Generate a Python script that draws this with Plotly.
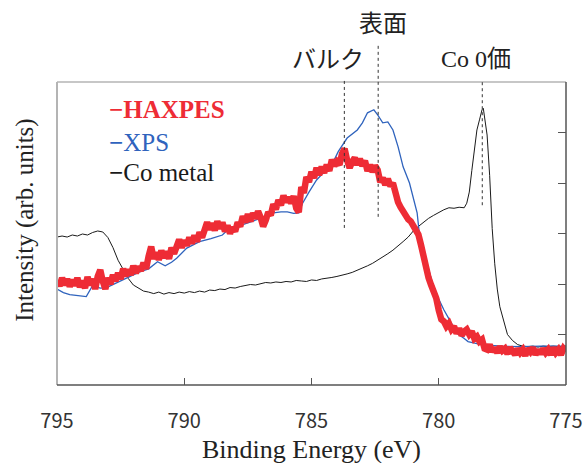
import plotly.graph_objects as go

# ---------------- data ----------------
x_range = [795, 775]
x_ticks = [795, 790, 785, 780, 775]
y_range = [0, 6]
y_ticks = [1, 2, 3, 4, 5]

co_energy = [795.0, 794.8, 794.6, 794.4, 794.2, 794.0, 793.8, 793.6, 793.4, 793.2,
             793.0, 792.8, 792.6, 792.4, 792.2, 792.0, 791.8, 791.6, 791.4, 791.2,
             791.0, 790.8, 790.6, 790.4, 790.2, 790.0, 789.8, 789.6, 789.4, 789.2,
             789.0, 788.8, 788.6, 788.4, 788.2, 788.0, 787.8, 787.6, 787.4, 787.2,
             787.0, 786.8, 786.6, 786.4, 786.2, 786.0, 785.8, 785.6, 785.4, 785.2,
             785.0, 784.8, 784.6, 784.4, 784.2, 784.0, 783.8, 783.6, 783.4, 783.2,
             783.0, 782.8, 782.6, 782.4, 782.2, 782.0, 781.8, 781.6, 781.4, 781.2,
             781.0, 780.8, 780.6, 780.4, 780.2, 780.0, 779.8, 779.6, 779.4, 779.2,
             779.0, 778.9, 778.8, 778.7, 778.6, 778.5, 778.4, 778.3, 778.25, 778.2,
             778.1, 778.0, 777.9, 777.8, 777.7, 777.6, 777.5, 777.4, 777.3, 777.1,
             776.9, 776.7, 776.5, 776.3, 776.1, 775.9, 775.7, 775.5, 775.3, 775.0]
co_metal = [2.93, 2.95, 2.93, 2.97, 2.95, 2.99, 2.97, 3.02, 3.05, 3.03,
            2.92, 2.72, 2.47, 2.28, 2.11, 1.98, 1.92, 1.86, 1.84, 1.81,
            1.84, 1.80, 1.83, 1.81, 1.84, 1.82, 1.85, 1.83, 1.86, 1.84,
            1.88, 1.87, 1.90, 1.89, 1.93, 1.92, 1.95, 1.97, 1.99, 1.98,
            2.01, 2.03, 2.02, 2.04, 2.03, 2.05, 2.04, 2.07, 2.06, 2.05,
            2.08, 2.07, 2.10, 2.11, 2.13, 2.15, 2.17, 2.20, 2.23, 2.27,
            2.31, 2.36, 2.41, 2.47, 2.53, 2.60, 2.67, 2.75, 2.84, 2.93,
            3.05, 3.14, 3.22, 3.30, 3.36, 3.42, 3.47, 3.51, 3.50, 3.52,
            3.51, 3.60, 3.82, 4.25, 4.70, 5.05, 5.25, 5.45, 5.48, 5.30,
            4.95, 4.15, 3.10, 2.40, 1.90, 1.55, 1.35, 1.15, 1.00, 0.88,
            0.80, 0.77, 0.76, 0.77, 0.75, 0.77, 0.76, 0.77, 0.76, 0.77]

xps_energy = [795.0, 794.75, 794.5, 794.2, 793.85, 793.6, 793.3, 793.05, 792.65, 792.25,
              791.75, 791.4, 791.05, 790.75, 790.5, 790.3, 789.9, 789.4, 788.95, 788.5,
              788.3, 787.9, 787.55, 787.0, 786.5, 786.2, 785.95, 785.7, 785.5, 785.35,
              785.1, 784.8, 784.5, 784.2, 783.95, 783.6, 783.2, 783.0, 782.8, 782.55,
              782.4, 782.2, 782.0, 781.8, 781.6, 781.4, 781.15, 780.85, 780.75, 780.5,
              780.25, 780.0, 779.8, 779.5, 779.3, 779.0, 778.85, 778.5, 778.1, 777.5,
              776.8, 776.0, 775.0]
xps = [1.90, 1.83, 1.79, 1.77, 1.75, 1.97, 1.92, 1.93, 2.02, 2.12,
       2.24, 2.30, 2.44, 2.36, 2.43, 2.51, 2.71, 2.84, 2.90, 2.97,
       3.07, 3.14, 3.21, 3.30, 3.41, 3.43, 3.43, 3.40, 3.41, 3.60,
       3.82, 4.06, 4.22, 4.36, 4.62, 4.89, 5.05, 5.19, 5.39, 5.45,
       5.35, 5.19, 5.21, 5.05, 4.72, 4.32, 4.00, 3.41, 2.94, 2.45,
       2.02, 1.70, 1.49, 1.22, 1.03, 0.92, 0.86, 0.82, 0.79, 0.77,
       0.76, 0.77, 0.77]

haxpes_energy = [
    795.0, 794.9, 794.8, 794.7, 794.6, 794.5, 794.4, 794.3, 794.2, 794.1,
    794.0, 793.9, 793.8, 793.7, 793.6, 793.5, 793.4, 793.3, 793.2, 793.1,
    793.0, 792.9, 792.8, 792.7, 792.6, 792.5, 792.4, 792.3, 792.2, 792.1,
    792.0, 791.9, 791.8, 791.7, 791.6, 791.5, 791.4, 791.3, 791.2, 791.1,
    791.0, 790.9, 790.8, 790.7, 790.6, 790.5, 790.4, 790.3, 790.2, 790.1,
    790.0, 789.9, 789.8, 789.7, 789.6, 789.5, 789.4, 789.3, 789.2, 789.1,
    789.0, 788.9, 788.8, 788.7, 788.6, 788.5, 788.4, 788.3, 788.2, 788.1,
    788.0, 787.9, 787.8, 787.7, 787.6, 787.5, 787.4, 787.3, 787.2, 787.1,
    787.0, 786.9, 786.8, 786.7, 786.6, 786.5, 786.4, 786.3, 786.2, 786.1,
    786.0, 785.9, 785.8, 785.7, 785.6, 785.5, 785.4, 785.3, 785.2, 785.1,
    785.0, 784.9, 784.8, 784.7, 784.6, 784.5, 784.4, 784.3, 784.2, 784.1,
    784.0, 783.9, 783.8, 783.7, 783.6, 783.5, 783.4, 783.3, 783.2, 783.1,
    783.0, 782.9, 782.8, 782.7, 782.6, 782.5, 782.4, 782.3, 782.2, 782.1,
    782.0, 781.9, 781.8, 781.7, 781.6, 781.5, 781.4, 781.3, 781.2, 781.1,
    781.0, 780.9, 780.8, 780.7, 780.6, 780.5, 780.4, 780.3, 780.2, 780.1,
    780.0, 779.9, 779.8, 779.7, 779.6, 779.5, 779.4, 779.3, 779.2, 779.1,
    779.0, 778.9, 778.8, 778.7, 778.6, 778.5, 778.4, 778.3, 778.2, 778.1,
    778.0, 777.9, 777.8, 777.7, 777.6, 777.5, 777.4, 777.3, 777.2, 777.1,
    777.0, 776.9, 776.8, 776.7, 776.6, 776.5, 776.4, 776.3, 776.2, 776.1,
    776.0, 775.9, 775.8, 775.7, 775.6, 775.5, 775.4, 775.3, 775.2, 775.1,
    775.0]
haxpes = [
    2.08, 1.96, 2.12, 1.98, 2.10, 1.95, 2.08, 1.97, 2.12, 1.94,
    2.06, 1.92, 2.14, 1.98, 2.10, 1.90, 2.15, 2.28, 2.05, 1.90,
    2.12, 2.00, 2.18, 2.06, 2.22, 2.10, 2.30, 2.16, 2.28, 2.18,
    2.36, 2.22, 2.34, 2.26, 2.42, 2.30, 2.55, 2.74, 2.50, 2.62,
    2.48, 2.66, 2.52, 2.64, 2.50, 2.72, 2.60, 2.78, 2.88, 2.72,
    2.86, 2.76, 2.92, 2.80, 2.96, 2.84, 3.02, 2.92, 3.10, 3.22,
    3.08, 3.20, 3.06, 3.24, 3.10, 3.22, 3.04, 3.16, 3.00, 3.12,
    3.04, 3.22, 3.14, 3.34, 3.22, 3.38, 3.24, 3.40, 3.30, 3.44,
    3.32, 3.14, 3.26, 3.42, 3.36, 3.58, 3.48, 3.66, 3.56, 3.75,
    3.62, 3.72, 3.60, 3.74, 3.50, 3.42, 3.92, 3.80, 4.12, 4.02,
    4.22, 4.10, 4.30, 4.16, 4.32, 4.20, 4.36, 4.24, 4.46, 4.34,
    4.42, 4.36, 4.58, 4.68, 4.45, 4.30, 4.42, 4.50, 4.36, 4.48,
    4.34, 4.44, 4.24, 4.36, 4.22, 4.34, 4.26, 4.02, 4.10, 3.96,
    4.08, 3.94, 4.00, 3.72, 3.62, 3.52, 3.42, 3.36, 3.28, 3.24,
    3.16, 3.08, 2.98, 2.78, 2.50, 2.28, 2.12, 1.98, 1.86, 1.72,
    1.48, 1.30, 1.26, 1.16, 1.22, 1.10, 1.16, 1.02, 1.12, 0.98,
    1.06, 1.10, 1.00, 1.06, 0.92, 0.96, 0.86, 0.90, 0.72, 0.70,
    0.80, 0.66, 0.74, 0.64, 0.76, 0.68, 0.72, 0.62, 0.74, 0.66,
    0.60, 0.72, 0.64, 0.70, 0.58, 0.72, 0.66, 0.74, 0.60, 0.70,
    0.62, 0.72, 0.64, 0.70, 0.60, 0.74, 0.64, 0.70, 0.60, 0.72,
    0.66]

# marker lines: (label, energy, bottom value, top in paper units)
mark_labels = ["バルク", "表面", "Co 0価"]
mark_energy = [783.71, 782.38, 778.29]
mark_bottom = [3.11, 3.33, 3.56]
mark_top = [1.007, 1.122, 1.007]
label_energy = [784.37, 782.19, 778.52]
label_y = [1.073, 1.193, 1.076]

legend_names = ["HAXPES", "XPS", "Co metal"]
legend_colors = ["#ee2c35", "#2f63bd", "#1a1a1a"]

# ---------------- figure ----------------
def to_paper_x(e):
    return (x_range[0] - e) / (x_range[0] - x_range[1])

def to_paper_y(v):
    return (v - y_range[0]) / (y_range[1] - y_range[0])

fig = go.Figure()
fig.add_trace(go.Scatter(x=co_energy, y=co_metal, mode="lines",
                         line=dict(color=legend_colors[2], width=1), name="Co metal"))
fig.add_trace(go.Scatter(x=xps_energy, y=xps, mode="lines",
                         line=dict(color=legend_colors[1], width=1.3), name="XPS"))
fig.add_trace(go.Scatter(x=haxpes_energy, y=haxpes, mode="lines",
                         line=dict(color=legend_colors[0], width=6.5), name="HAXPES"))

shapes = []
# frame
shapes.append(dict(type="line", xref="paper", yref="paper", x0=0, x1=1, y0=1, y1=1,
                   line=dict(color="#b4b4b4", width=1.5)))
shapes.append(dict(type="line", xref="paper", yref="paper", x0=0, x1=0, y0=0, y1=1,
                   line=dict(color="#b4b4b4", width=2)))
shapes.append(dict(type="line", xref="paper", yref="paper", x0=1, x1=1, y0=0, y1=1,
                   line=dict(color="#555555", width=1.5)))
shapes.append(dict(type="line", xref="paper", yref="paper", x0=0, x1=1, y0=0, y1=0,
                   line=dict(color="#555555", width=1.5)))
for e, b, t in zip(mark_energy, mark_bottom, mark_top):
    px = to_paper_x(e)
    shapes.append(dict(type="line", xref="paper", yref="paper", x0=px, x1=px,
                       y0=to_paper_y(b), y1=t,
                       line=dict(color="#333333", width=1, dash="dot")))

annotations = []
for lab, e, yy in zip(mark_labels, label_energy, label_y):
    annotations.append(dict(text=lab, x=to_paper_x(e), y=yy, xref="paper", yref="paper",
                            showarrow=False, xanchor="center", yanchor="middle",
                            font=dict(family="Liberation Serif, Noto Sans CJK JP", size=24,
                                      color="#222222")))
legend_y = [0.908, 0.799, 0.700]
for name, col, yy in zip(legend_names, legend_colors, legend_y):
    txt = "<b>−</b>" + (f"<b>{name}</b>" if name == "HAXPES" else name)
    annotations.append(dict(text=txt, x=0.098, y=yy, xref="paper", yref="paper",
                            showarrow=False, xanchor="left", yanchor="middle",
                            font=dict(family="Liberation Serif", size=25, color=col)))
annotations.append(dict(text="Intensity (arb. units)", x=-0.063, y=0.545,
                        xref="paper", yref="paper", showarrow=False, textangle=-90,
                        xanchor="center", yanchor="middle",
                        font=dict(family="Liberation Serif", size=25, color="#222222")))
annotations.append(dict(text="Binding Energy (eV)", x=0.5, y=-0.2145,
                        xref="paper", yref="paper", showarrow=False,
                        xanchor="center", yanchor="middle",
                        font=dict(family="Liberation Serif", size=26, color="#222222")))

fig.update_layout(
    width=584, height=463,
    margin=dict(l=57, r=18, t=82, b=78, autoexpand=False),
    paper_bgcolor="white", plot_bgcolor="white",
    showlegend=False,
    shapes=shapes, annotations=annotations,
    xaxis=dict(range=x_range, tickvals=x_ticks, ticktext=[str(v) for v in x_ticks],
               ticks="inside", ticklen=7, tickcolor="#555555", tickwidth=1.2,
               showgrid=False, zeroline=False, showline=False, automargin=False,
               ticklabelstandoff=22,
               tickfont=dict(family="Noto Sans CJK JP", size=20, color="#333333")),
    yaxis=dict(range=y_range, tickvals=y_ticks, side="right",
               ticks="inside", ticklen=8, tickcolor="#555555", tickwidth=1.2,
               showticklabels=False, showgrid=False, zeroline=False, showline=False,
               automargin=False),
)

fig.write_html("out.html", config={"displayModeBar": False},
               post_script="document.body.style.margin='0';document.body.style.overflow='hidden';")
